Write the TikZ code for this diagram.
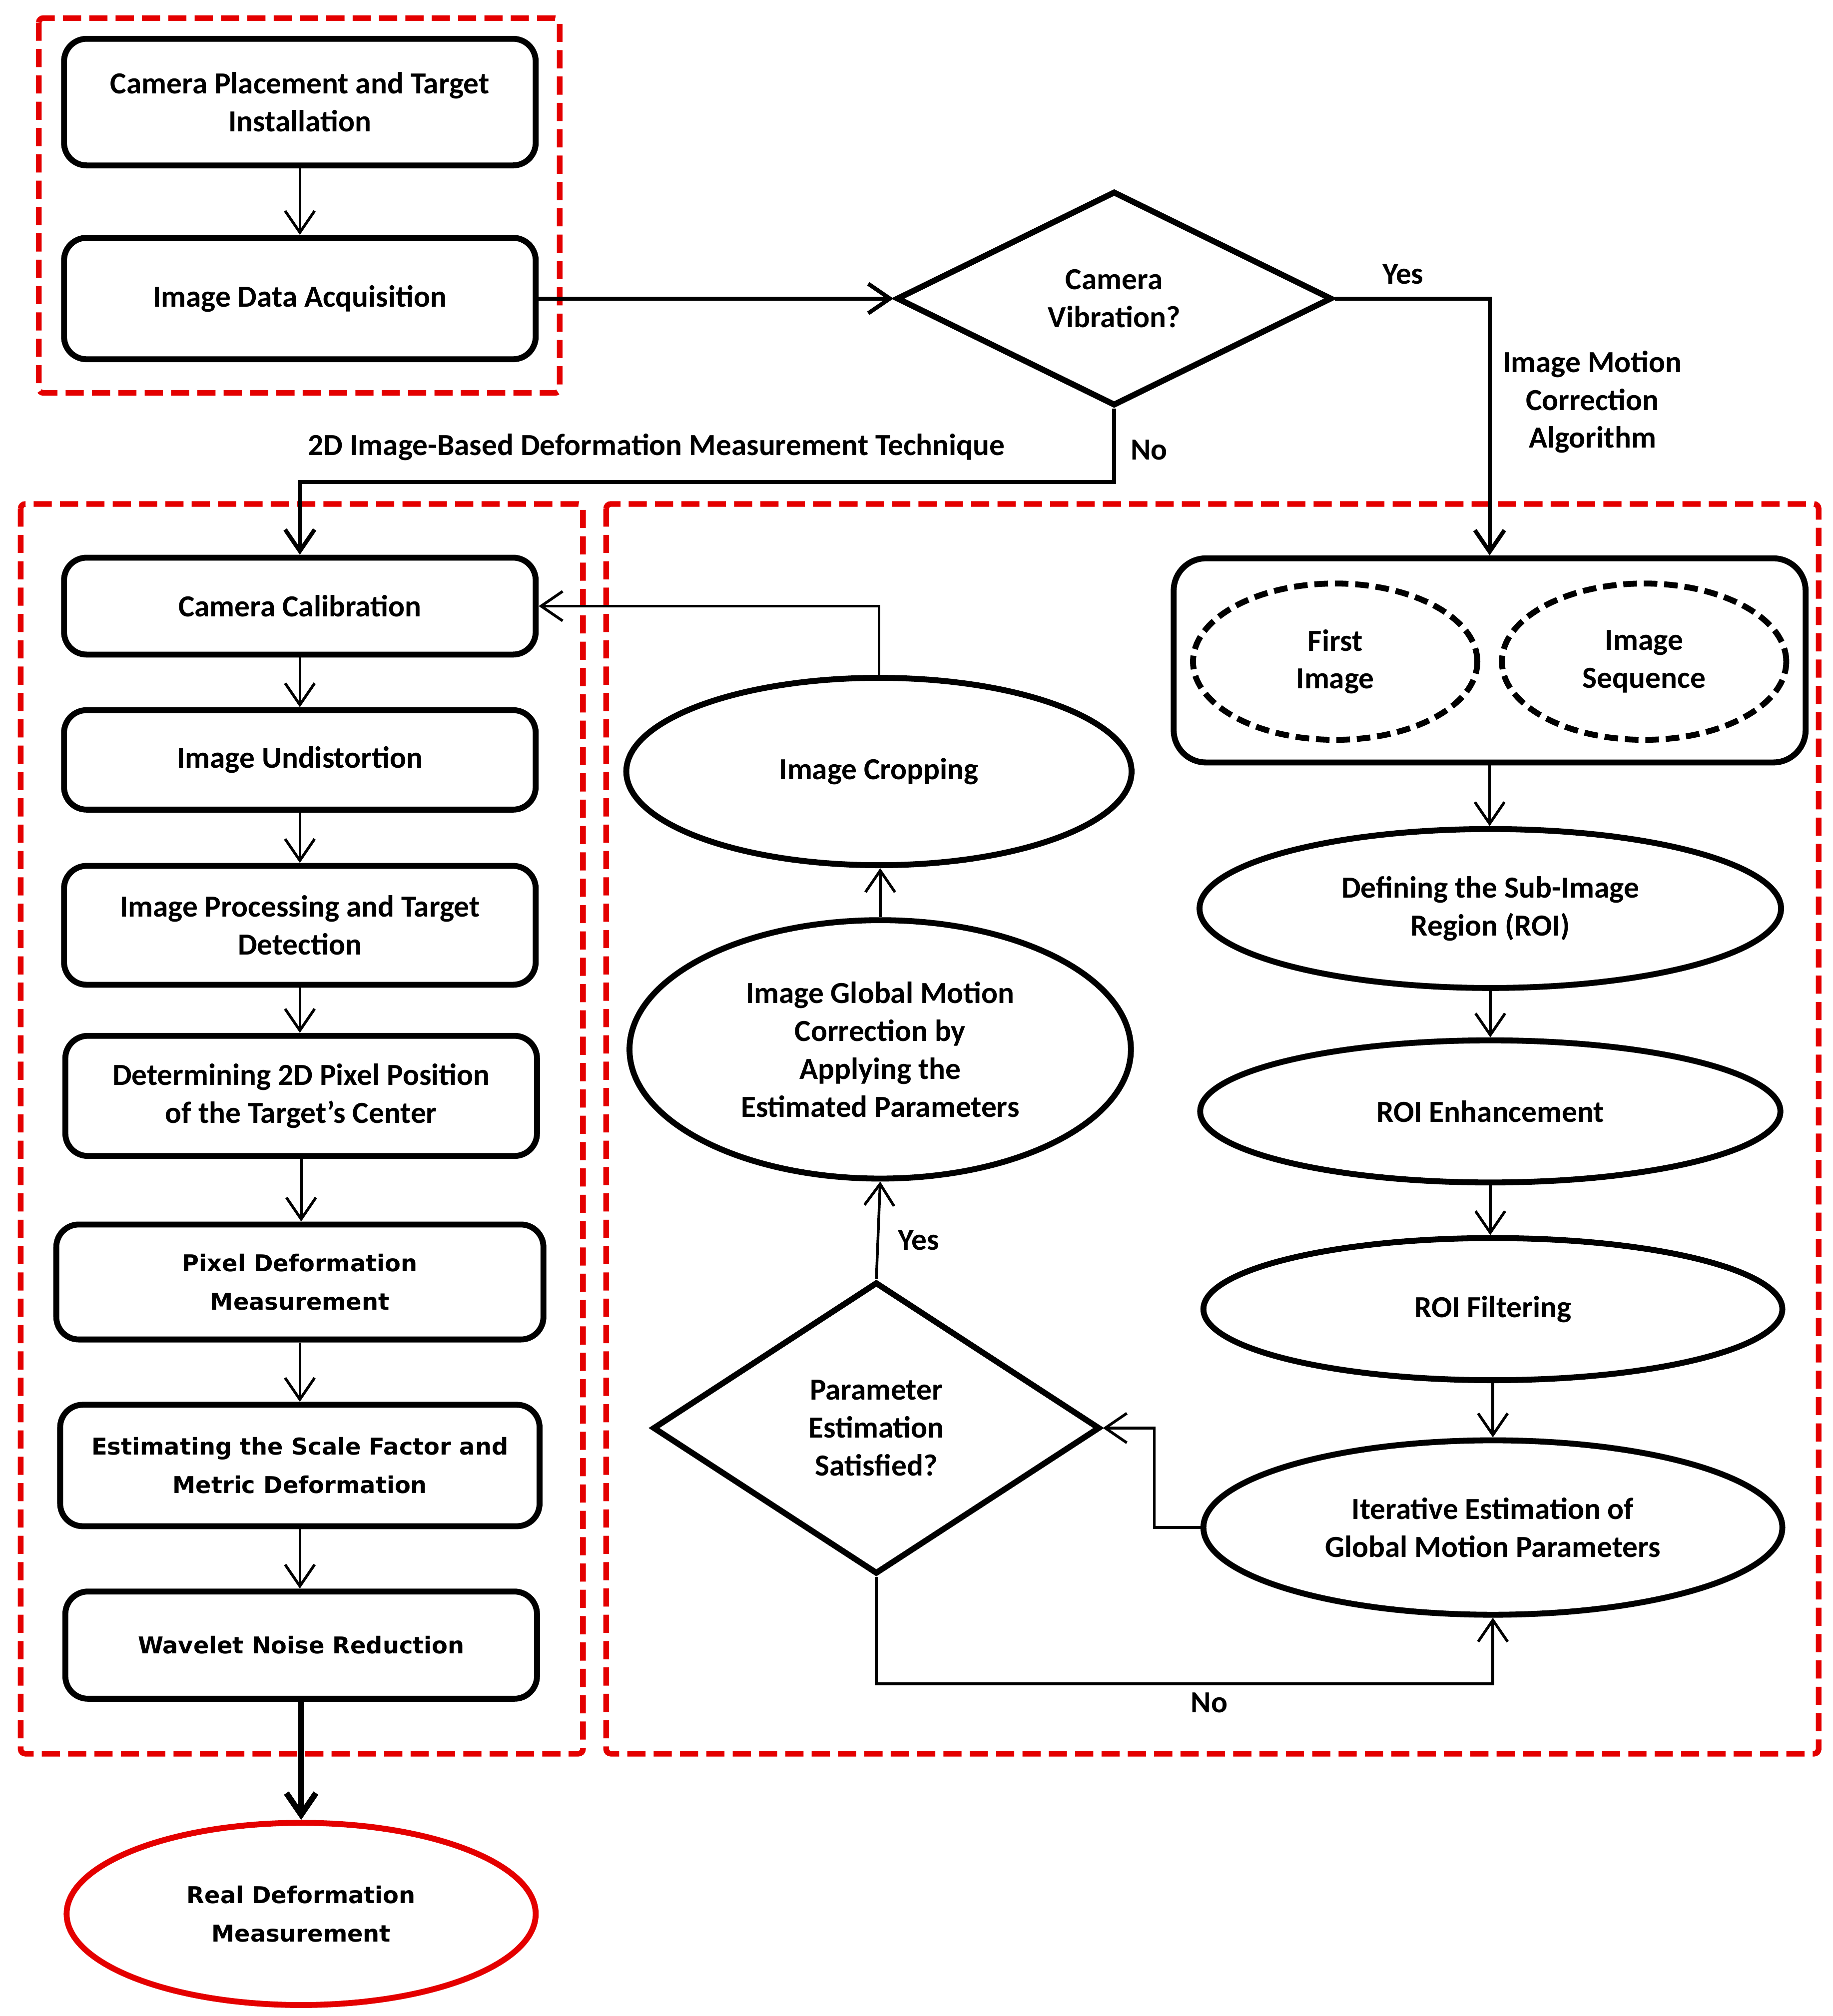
\documentclass[tikz,border=0pt]{standalone}
\usepackage{fontspec}
\setmainfont{Carlito}
\newfontfamily\widefont{DejaVu Sans}
\usetikzlibrary{shapes.geometric,arrows.meta,positioning}
\definecolor{framered}{RGB}{228,0,0}
\tikzset{
  txt/.style={font=\fontsize{13.5}{16.7}\selectfont\bfseries, align=center},
  widetxt/.style={font=\widefont\fontsize{10.2}{17}\selectfont\bfseries, align=center},
  flowbox/.style={draw, line width=2.6pt, rounded corners=0.35cm, minimum width=7.3cm, inner sep=0pt},
  oval/.style={draw, ellipse, line width=2.6pt, inner sep=0pt},
  decision/.style={draw, diamond, line width=2.6pt, inner sep=0pt, aspect=2},
  frame/.style={draw=framered, line width=2.5pt, dash pattern=on 8pt off 3.6pt, rounded corners=2pt},
  conn/.style={line width=1.2pt},
  heavyconn/.style={line width=1.8pt},
}
\begin{document}
\begin{tikzpicture}[x=0.02cm, y=-0.02cm, >={Straight Barb[length=9.5pt,width=13pt]}]
  \useasboundingbox (0,0) rectangle (1418,1560);

  % dashed groups
  \draw[frame] (30,14) rectangle (433,304);
  \draw[frame] (16,390) rectangle (451,1357);
  \draw[frame] (469,390) rectangle (1407,1357);

  % acquisition
  \node[flowbox, txt, minimum height=1.96cm] (place) at (232,79) {Camera Placement and Target\\Installation};
  \node[flowbox, txt, minimum height=1.88cm] (acquire) at (232,231) {Image Data Acquisition};
  \node[decision, txt, minimum width=6.74cm, minimum height=3.32cm] (vib) at (862,231) {Camera\\Vibration?};

  % 2D measurement column
  \node[flowbox, txt, minimum height=1.5cm] (calib) at (232,469) {Camera Calibration};
  \node[flowbox, txt, minimum height=1.54cm] (undist) at (232,588) {Image Undistortion};
  \node[flowbox, txt, minimum height=1.84cm] (proc) at (232,716) {Image Processing and Target\\Detection};
  \node[flowbox, txt, minimum height=1.86cm] (pixpos) at (233,848) {Determining 2D Pixel Position\\of the Target's Center};
  \node[flowbox, widetxt, minimum height=1.78cm, minimum width=7.54cm] (pixdef) at (232,992) {Pixel Deformation\\Measurement};
  \node[flowbox, widetxt, minimum height=1.88cm, minimum width=7.42cm] (scale) at (232,1134) {Estimating the Scale Factor and\\Metric Deformation};
  \node[flowbox, widetxt, minimum height=1.66cm] (wavelet) at (233,1273) {Wavelet Noise Reduction};
  \node[oval, widetxt, draw=framered, minimum width=7.26cm, minimum height=2.82cm] (realdef) at (233,1481) {Real Deformation\\Measurement};

  % motion correction
  \node[flowbox, rounded corners=0.5cm, minimum width=9.78cm, minimum height=3.16cm] (seqbox) at (1152.5,511) {};
  \node[oval, txt, dash pattern=on 6pt off 3pt, minimum width=4.4cm, minimum height=2.42cm] (first) at (1033,512) {First\\Image};
  \node[oval, txt, dash pattern=on 6pt off 3pt, minimum width=4.4cm, minimum height=2.42cm] (seq) at (1272,512) {Image\\Sequence};
  \node[oval, txt, minimum width=9cm, minimum height=2.46cm] (subimg) at (1153,703) {Defining the Sub-Image\\Region (ROI)};
  \node[oval, txt, minimum width=8.98cm, minimum height=2.2cm] (enh) at (1153,860) {ROI Enhancement};
  \node[oval, txt, minimum width=8.96cm, minimum height=2.2cm] (filt) at (1155,1013) {ROI Filtering};
  \node[oval, txt, minimum width=8.96cm, minimum height=2.7cm] (iter) at (1155,1182) {Iterative Estimation of\\Global Motion Parameters};
  \node[decision, txt, minimum width=6.92cm, minimum height=4.52cm] (satis) at (678,1105) {Parameter\\Estimation\\Satisfied?};
  \node[oval, txt, minimum width=7.76cm, minimum height=4cm] (globcorr) at (681,812) {Image Global Motion\\Correction by\\Applying the\\Estimated Parameters};
  \node[oval, txt, minimum width=7.82cm, minimum height=2.9cm] (crop) at (680,597) {Image Cropping};

  % labels
  \node[txt] (motionlbl) at (1232,311) {Image Motion\\Correction\\Algorithm};
  \node[txt] (techlbl) at (508,346) {2D Image-Based Deformation Measurement Technique};

  % connectors
  \draw[conn,->] (place) -- (acquire);
  \draw[heavyconn,->] (acquire) -- (vib);
  \draw[heavyconn,->] (vib.east) -| node[txt, pos=0.22, above=2pt] (yestop) {Yes} (seqbox.north);
  \coordinate (nobend) at (232,373);
  \draw[heavyconn,->] (vib.south) |- node[txt, pos=0.28, right=3pt] (notop) {No} (nobend) -- (calib.north);
  \foreach \a/\b in {calib/undist, undist/proc, proc/pixpos, pixpos/pixdef, pixdef/scale, scale/wavelet}
    \draw[conn,->] (\a.south) -- (\a.south |- \b.north);
  \draw[line width=2.6pt,->] (wavelet.south) -- (wavelet.south |- realdef.north);

  \draw[conn,->] (seqbox.south) -- (seqbox.south |- subimg.north);
  \draw[conn,->] (subimg.south) -- (subimg.south |- enh.north);
  \draw[conn,->] (enh.south) -- (enh.south |- filt.north);
  \draw[conn,->] (filt.south) -- (filt.south |- iter.north);
  \coordinate (backbend) at (893,1182);
  \draw[conn,->] (iter.west) -- (backbend) |- (satis.east);
  \coordinate (nobottom) at (678,1303);
  \draw[conn,->] (satis.south) -- (nobottom) -| node[txt, pos=0.27, below=0pt] (nolow) {No} (iter.south);
  \draw[conn,->] (satis.north) -- node[txt, pos=0.4, right=5pt] (yeslow) {Yes} (globcorr.south);
  \draw[conn,->] (globcorr.north) -- (globcorr.north |- crop.south);
  \draw[conn,->] (crop.north) |- (calib.east);
\end{tikzpicture}
\end{document}
